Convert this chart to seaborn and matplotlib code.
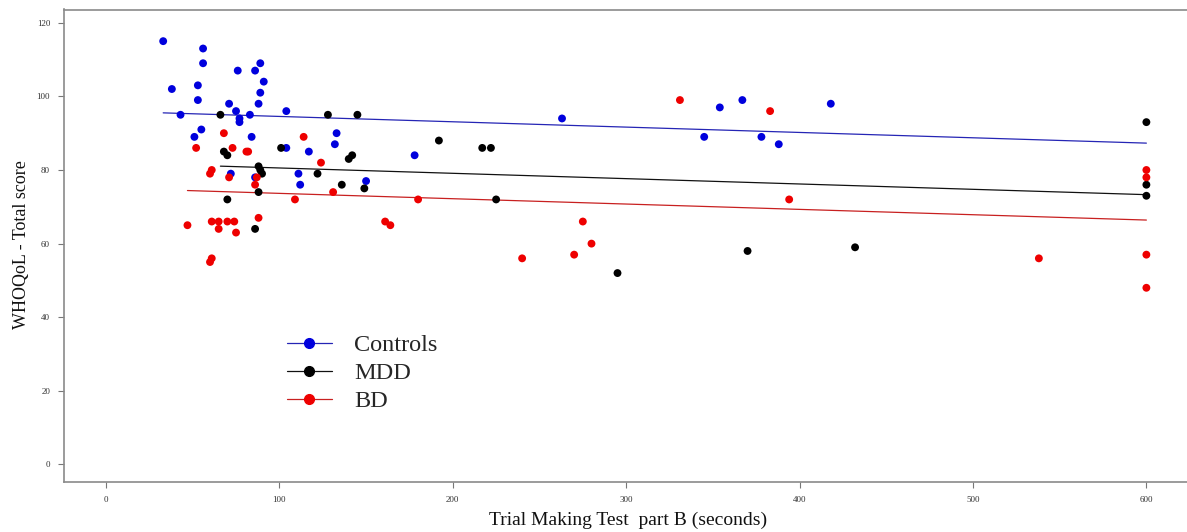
import numpy as np
import pandas as pd
import matplotlib
matplotlib.use("Agg")
import matplotlib.pyplot as plt
from matplotlib.lines import Line2D
import seaborn as sns

# ---------------- data ----------------
controls_x = [33, 56, 56, 76, 89, 86, 91, 38, 53, 53, 89, 71, 88, 75, 104, 43, 83, 77, 77,
              55, 51, 84, 104, 117, 72, 86, 111, 112, 133, 132, 178, 150, 263, 354, 367,
              418, 345, 378, 388]
controls_y = [115, 113, 109, 107, 109, 107, 104, 102, 103, 99, 101, 98, 98, 96, 96, 95, 95, 94, 93,
              91, 89, 89, 86, 85, 79, 78, 79, 76, 90, 87, 84, 77, 94, 97, 99,
              98, 89, 89, 87]

mdd_x = [66, 68, 70, 101, 88, 89, 90, 88, 70, 86, 128, 145, 192, 217, 222, 140, 142, 122,
         136, 149, 225, 295, 370, 432, 600, 600, 600]
mdd_y = [95, 85, 84, 86, 81, 80, 79, 74, 72, 64, 95, 95, 88, 86, 86, 83, 84, 79,
         76, 75, 72, 52, 58, 59, 93, 76, 73]

bd_x = [68, 52, 73, 81, 82, 114, 60, 61, 71, 87, 86, 109, 47, 61, 65, 70, 74, 65, 75, 88,
        60, 61, 124, 131, 180, 161, 164, 240, 331, 383, 394, 275, 280, 270, 538,
        600, 600, 600, 600]
bd_y = [90, 86, 86, 85, 85, 89, 79, 80, 78, 78, 76, 72, 65, 66, 66, 66, 66, 64, 63, 67,
        55, 56, 82, 74, 72, 66, 65, 56, 99, 96, 72, 66, 60, 57, 56,
        80, 78, 57, 48]

groups = ["Controls", "MDD", "BD"]
# fitted lines (common slope model)
fit_intercepts = [96.0, 82.0, 75.1]
fit_slope = -0.0145

x_ticks = [0, 100, 200, 300, 400, 500, 600]
y_ticks = [0, 20, 40, 60, 80, 100, 120]
x_label = "Trial Making Test  part B (seconds)"
y_label = "WHOQoL - Total score"

point_colors = {"Controls": "#0000DD", "MDD": "#000000", "BD": "#EE0000"}
line_colors = {"Controls": "#2525B5", "MDD": "#111111", "BD": "#C82020"}

# ---------------- build frames ----------------
pts = pd.concat([
    pd.DataFrame({"x": controls_x, "y": controls_y, "group": "Controls"}),
    pd.DataFrame({"x": mdd_x, "y": mdd_y, "group": "MDD"}),
    pd.DataFrame({"x": bd_x, "y": bd_y, "group": "BD"}),
], ignore_index=True)

x_end = pts["x"].max()
line_rows = []
for g, b in zip(groups, fit_intercepts):
    gx = pts.loc[pts.group == g, "x"]
    for xv in (gx.min(), x_end):
        line_rows.append({"x": xv, "y": b + fit_slope * xv, "group": g})
lines = pd.DataFrame(line_rows)

# ---------------- plot ----------------
sns.set_style("white")
plt.rcParams["font.family"] = ["Liberation Serif", "DejaVu Serif"]

fig = plt.figure(figsize=(11.87, 5.32), dpi=100)
W, H = 1187, 532
ax = fig.add_axes([64 / W, (H - 482) / H, (1188 - 64) / W, (482 - 9.5) / H])

for g in groups:
    sub = pts[pts.group == g]
    sns.scatterplot(data=sub, x="x", y="y", color=point_colors[g], s=32,
                    edgecolor="none", linewidth=0, ax=ax, legend=False, zorder=3)

sns.lineplot(data=lines, x="x", y="y", hue="group", palette=line_colors,
             linewidth=0.9, ax=ax, legend=False, zorder=2)

ax.set_xlim(-24.2, 624.0)
ax.set_ylim(-4.76, 123.6)
ax.set_xticks(x_ticks)
ax.set_yticks(y_ticks)
ax.set_xticklabels([str(t) for t in x_ticks])
ax.set_yticklabels([str(t) for t in y_ticks])
ax.tick_params(axis="both", which="major", direction="out", length=4, width=0.8,
               color="#777777", labelsize=6.5, labelcolor="#333333", pad=6,
               bottom=True, left=True)

for side in ["left", "bottom", "top", "right"]:
    ax.spines[side].set_color("#8a8a8a")
    ax.spines[side].set_linewidth(1.2)

ax.set_xlabel(x_label, fontsize=14, color="#111111")
ax.set_ylabel(y_label, fontsize=13, color="#111111")
ax.xaxis.set_label_coords((628 - 64) / 1124, (482 - 512) / 472.5)
ax.yaxis.set_label_coords((30 - 64) / 1124, (482 - 245) / 472.5)

handles = [Line2D([0], [0], color=line_colors[g], linewidth=0.9, marker="o",
                  markersize=7, markerfacecolor=point_colors[g],
                  markeredgecolor=point_colors[g]) for g in groups]
ax.legend(handles, groups, loc="upper left",
          bbox_to_anchor=((287 - 64) / 1124, (482 - 334) / 472.5),
          frameon=False, fontsize=17.5, handlelength=1.85, handletextpad=0.9,
          labelspacing=0.25, borderpad=0, borderaxespad=0)

fig.savefig("out.png", dpi=100)
